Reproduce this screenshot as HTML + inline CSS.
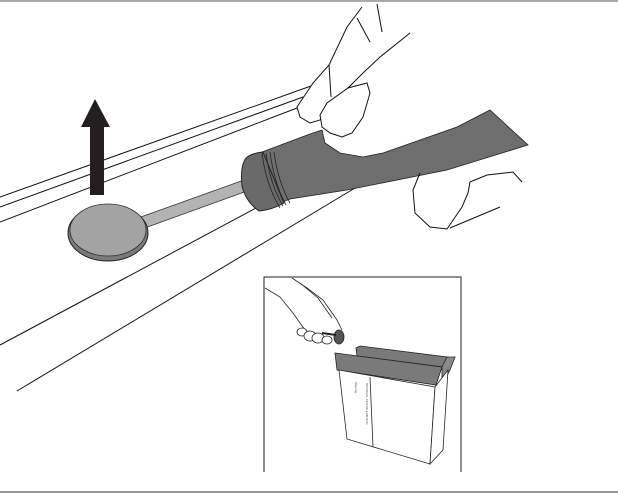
<!DOCTYPE html>
<html><head><meta charset="utf-8"><style>
html,body{margin:0;padding:0;background:#fff;}
svg{display:block;}
</style></head><body>
<svg width="618" height="494" viewBox="0 0 618 494" xmlns="http://www.w3.org/2000/svg">
<rect width="618" height="494" fill="#fff"/>
<line x1="0" y1="1" x2="618" y2="1" stroke="#aaa" stroke-width="2"/>
<line x1="0" y1="492" x2="618" y2="492" stroke="#999" stroke-width="2"/>
<g stroke="#111" stroke-width="1" fill="none">
<line x1="0" y1="197" x2="311" y2="86"/>
<line x1="0" y1="207" x2="303" y2="97"/>
<line x1="0" y1="222" x2="297" y2="108"/>
<line x1="0" y1="345" x2="256" y2="208"/>
<line x1="17" y1="391" x2="355" y2="188"/>
</g>
<!-- arrow -->
<polygon points="90,195 104,195 104,127 110,127 95,99 81,127 90,127" fill="#231f20"/>
<!-- shaft -->
<polygon points="138,218 244,180 247,191 142,229" fill="#b3b3b3" stroke="#333" stroke-width="0.8"/>
<!-- disc -->
<ellipse cx="108" cy="233" rx="40" ry="28" fill="#7a7a7a" stroke="#222" stroke-width="1"/>
<ellipse cx="108" cy="230" rx="38" ry="26" fill="#a3a3a3" stroke="#333" stroke-width="0.8"/>
<!-- handle -->
<path d="M262,152 L310,134 L322,130 L325,143 L340,153 L363,157 L383,153 L420,140 L457,127 L490,110 L528,145 L447,170 L357,188 L347,190 L290,199 L270,207 Z" fill="#6e6e6e" stroke="#222" stroke-width="0.8"/>
<path d="M246,158 Q252,153 263,152 L284,203 Q272,210 259,211 Q246,202 242,186 Q240,166 246,158 Z" fill="#6a6a6a" stroke="#222" stroke-width="1"/>
<g stroke="#222" stroke-width="0.8" fill="none">
<path d="M262,153 Q266,185 280,208"/><path d="M266,153 Q270,184 283,206"/><path d="M270,152 Q274,183 286,205"/><path d="M274,152 Q278,182 290,203"/>
</g>
<!-- upper hand -->
<g stroke="#111" stroke-width="1" fill="#fff">
<path d="M362,7 L347,27 L329,65 L313,83 L297,107 L300,117 L310,123 L320,120 L338,98 L363,73 L380,57 L410,33" fill="#fff"/>
<path d="M320,115 L327,103 L348,88 L367,83 L370,93 L363,117 L352,133 L342,137 L330,133 L322,127 Z"/>
<line x1="377" y1="4" x2="382" y2="32"/>
<line x1="357" y1="18" x2="370" y2="42"/>
<line x1="329" y1="65" x2="331" y2="97"/>
<!-- lower hand -->
<path d="M420,173 L413,190 L415,213 L430,227 L447,229 L462,207 L468,193 L470,182 L487,175 L513,172 L522,182" fill="none"/>
<line x1="450" y1="228" x2="500" y2="207"/>
</g>
<!-- inset -->
<g stroke="#222" stroke-width="1" fill="none">
<path d="M264,472 L264,277 L461,277 L461,472"/>
</g>
<g stroke="#222" stroke-width="0.8">
<polygon points="356,348 360,346 447,357 443,367 357,356" fill="#7a7a7a"/>
<polygon points="335,353 442,367 436,385 337,370" fill="#7a7a7a"/>
<polygon points="442,367 447,357 455,357 450,370 442,385" fill="#8a8a8a"/>
<polygon points="339,370 435,387 430,464 347,439" fill="#fff"/>
<polygon points="435,387 448,370 443,450 430,464" fill="#fff"/>
<line x1="370" y1="377" x2="373" y2="447"/>
</g>
<g stroke="#222" stroke-width="0.8" fill="none">
<path d="M265,288 L280,297 L293,313 L300,323 L305,330"/>
<path d="M292,278 L307,288 L323,300 L337,320 L342,330"/>
<path d="M300,283 L318,298 L332,318"/>
<ellipse cx="302" cy="332" rx="5" ry="4" fill="#fff"/>
<ellipse cx="310" cy="336" rx="6" ry="5" fill="#fff"/>
<ellipse cx="318" cy="338" rx="6" ry="5" fill="#fff"/>
<ellipse cx="327" cy="340" rx="5" ry="4" fill="#fff"/>
</g>
<ellipse cx="339" cy="337" rx="5" ry="7" fill="#555" stroke="#222" stroke-width="0.8"/>
<line x1="322" y1="333" x2="336" y2="335" stroke="#222" stroke-width="2"/>
<text x="0" y="0" font-family="Liberation Sans, sans-serif" font-size="3" fill="#555" transform="translate(366,383) rotate(90)">RESIDUAL PETROLEUM BAG</text>
<text x="0" y="0" font-family="Liberation Sans, sans-serif" font-size="3" fill="#555" transform="translate(355,382) rotate(90)">Warning</text>
</svg>
</body></html>
